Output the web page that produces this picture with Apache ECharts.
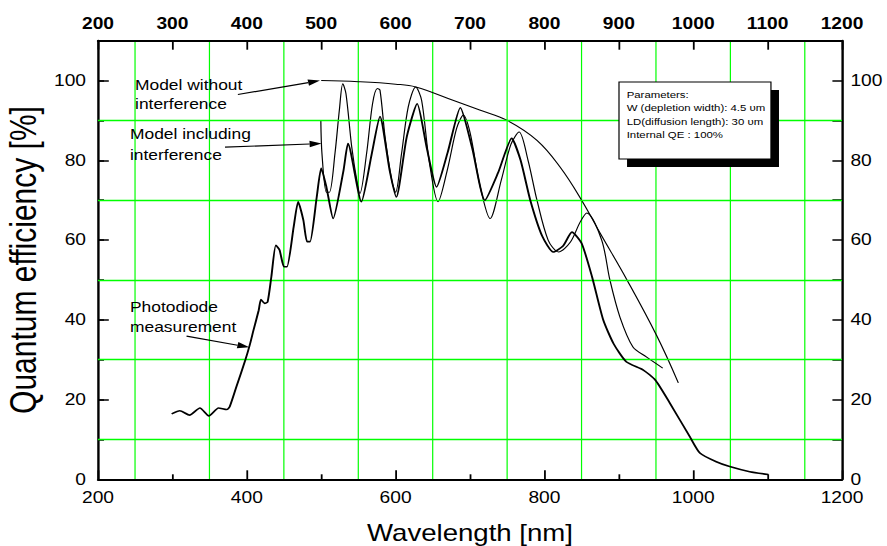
<!DOCTYPE html>
<html>
<head>
<meta charset="utf-8">
<script src="https://cdn.jsdelivr.net/npm/echarts@6.0.0/dist/echarts.min.js"></script>
<style>
html,body{margin:0;padding:0;background:#fff;overflow:hidden;}
/* the original plot is stretched horizontally, so draw narrower and stretch */
#main{width:739px;height:546px;transform:scaleX(1.2003);transform-origin:0 0;}
</style>
</head>
<body>
<div id="main"></div>
<script>
// photodiode measurement: wavelength (nm) / QE (%)
var pdWl = [299,310,323,337,349,362,373,377,386,398,404,409,416,419,424,428,433,439,444,450,454,463,469,476,481,485,494,500,507,516,530,536,554,568,579,592,601,615,629,642,655,670,687,703,720,738,756,768,781,797,812,825,837,850,864,879,893,910,933,949,969,996,1009,1031,1049,1076,1101];
var pdQe = [16.4,17.2,16.1,17.9,15.9,17.9,17.5,18.2,23.2,29.9,33.7,37.4,42.4,45.1,44.1,44.5,50.8,58.7,57.5,53.3,53.3,63.3,69.6,65.0,59.6,59.6,70.8,78,73.3,65.4,77.5,84.2,69.6,81.7,91,77.5,70.8,85.9,94.2,83,73.3,82,93.2,83,70,77,85.5,80,70,61,57,58.5,62,59.2,50.8,40,34,29.5,27.4,24.9,19,10.5,6.6,4.4,3.2,1.9,1.2];

// model including interference
var miWl = [499.5,501,507,511,518.5,524.4,529,533.3,541,548.5,552,561,569,575.5,579,585.8,594.8,600,608,617,627,635,645,657,670,682,691,700,713,727,742,755,766,778,790,805,819,835,848,857,877,888,901.5,919,937,959];
var miQe = [89.9,81.7,72,72,81.7,92.6,99.2,96.7,83.4,74.2,71.7,81.7,94.2,98,97.6,85.9,75,72,81.7,93.4,98.4,95,80,69.6,78,88,91.3,87,74,65.4,75,84,87.1,80,70,60,57,59.5,64.5,66.8,60,50,40.7,33.2,30.7,27.9];

// model without interference
var mwWl = [500,550,600,627,678,713,750,790,821,850,875,911,951,980];
var mwQe = [100,99.7,99.1,98.4,95,92.6,90,85,78.3,70,61.7,50,36,24.2];

// green horizontal grid lines (QE %)
var hGrid = [10, 30, 50, 70, 90];

// annotation arrows, [tail, tip] in data units
var arrowWithout = [[388, 96.5], [498.4, 100]];
var arrowIncluding = [[370.7, 83.3], [500.5, 84.2]];
var arrowDiode = [[319, 35.9], [403.4, 33.1]];

var font = 'Arial, "Liberation Sans", sans-serif';

function pairs(xs, ys) {
  return xs.map(function (x, i) { return [x, ys[i]]; });
}
function plain(v) { return String(v); }

var chart = echarts.init(document.getElementById('main'), null, {renderer: 'svg'});

var axisLine = {show: true, onZero: false, lineStyle: {color: '#000', width: 2}};

var option = {
  animation: false,
  backgroundColor: '#fff',
  grid: {left: 81.65, right: 37.5, top: 40.7, bottom: 66.7, outerBoundsMode: 'none', containLabel: false},
  xAxis: [
    {
      type: 'value', position: 'bottom', min: 200, max: 1200, interval: 200,
      name: 'Wavelength [nm]', nameLocation: 'middle', nameGap: 42, nameMoveOverlap: false,
      nameTextStyle: {color: '#000', fontSize: 23, fontFamily: font},
      axisLine: axisLine,
      axisTick: {inside: true, length: 9, lineStyle: {color: '#000', width: 1.5}},
      minorTick: {show: true, splitNumber: 2, length: 5, lineStyle: {color: '#000', width: 1.5}},
      axisLabel: {color: '#000', fontSize: 16, fontFamily: font, margin: 10, formatter: plain},
      splitLine: {show: false}
    },
    {
      type: 'value', position: 'top', min: 200, max: 1200, interval: 100,
      axisLine: axisLine,
      axisTick: {inside: true, length: 9, lineStyle: {color: '#000', width: 1.5}},
      minorTick: {show: false, splitNumber: 2},
      minorSplitLine: {show: true, lineStyle: {color: '#00ff00', width: 1}},
      axisLabel: {color: '#000', fontSize: 16, fontWeight: 'bold', fontFamily: font, margin: 9, formatter: plain},
      splitLine: {show: false}
    }
  ],
  yAxis: [
    {
      type: 'value', position: 'left', min: 0, max: 110, interval: 20,
      name: 'Quantum efficiency [%]', nameLocation: 'middle', nameGap: 47, nameMoveOverlap: false,
      nameTextStyle: {color: '#000', fontSize: 30, fontFamily: font},
      axisLine: axisLine,
      axisTick: {inside: true, length: 9, lineStyle: {color: '#000', width: 1.5}},
      axisLabel: {color: '#000', fontSize: 16, fontFamily: font, margin: 10,
        formatter: function (v) { return v <= 100 ? String(v) : ''; }},
      splitLine: {show: false}
    },
    {
      type: 'value', position: 'right', min: 0, max: 110, interval: 10,
      axisLine: axisLine,
      axisTick: {inside: true, length: 8, lineStyle: {color: '#000', width: 1.5}},
      axisLabel: {color: '#000', fontSize: 16, fontFamily: font, margin: 7,
        formatter: function (v) { return (v % 20 === 0 && v <= 100) ? String(v) : ''; }},
      splitLine: {show: false}
    },
    {
      // minor ticks on the left side
      type: 'value', position: 'left', min: 0, max: 110, interval: 10,
      axisLine: {show: false},
      axisTick: {show: true, inside: true, length: 5, lineStyle: {color: '#000', width: 1.5}},
      axisLabel: {show: false},
      splitLine: {show: false}
    }
  ],
  series: [
    {
      name: 'grid', type: 'line', xAxisIndex: 0, yAxisIndex: 0, data: [], z: 1,
      markLine: {
        silent: true, symbol: 'none', animation: false,
        label: {show: false},
        lineStyle: {color: '#00ff00', width: 1.3, type: 'solid'},
        data: hGrid.map(function (v) { return {yAxis: v}; })
      }
    },
    {
      name: 'Photodiode measurement', type: 'line', xAxisIndex: 0, yAxisIndex: 0,
      data: pairs(pdWl, pdQe), symbol: 'none', smooth: 0.2,
      lineStyle: {color: '#000', width: 1.6}, z: 5
    },
    {
      name: 'Model including interference', type: 'line', xAxisIndex: 0, yAxisIndex: 0,
      data: pairs(miWl, miQe), symbol: 'none', smooth: 0.3,
      lineStyle: {color: '#000', width: 1}, z: 4
    },
    {
      name: 'Model without interference', type: 'line', xAxisIndex: 0, yAxisIndex: 0,
      data: pairs(mwWl, mwQe), symbol: 'none', smooth: 0.4,
      lineStyle: {color: '#000', width: 1}, z: 4
    }
  ]
};

chart.setOption(option);

function arrow(a) {
  var p = chart.convertToPixel({xAxisIndex: 0, yAxisIndex: 0}, a[0]);
  var q = chart.convertToPixel({xAxisIndex: 0, yAxisIndex: 0}, a[1]);
  var dx = q[0] - p[0], dy = q[1] - p[1];
  var len = Math.sqrt(dx * dx + dy * dy);
  var ux = dx / len, uy = dy / len, hl = 10, hw = 3.2;
  var bx = q[0] - ux * hl, by = q[1] - uy * hl;
  return [
    {type: 'line', z: 20, shape: {x1: p[0], y1: p[1], x2: bx, y2: by}, style: {stroke: '#000', lineWidth: 1.2}},
    {type: 'polygon', z: 20, shape: {points: [[q[0], q[1]], [bx - uy * hw, by + ux * hw], [bx + uy * hw, by - ux * hw]]}, style: {fill: '#000'}}
  ];
}

function label(x, y, txt, size) {
  return {type: 'text', x: x, y: y, z: 20,
    style: {text: txt, fill: '#000', fontSize: size, fontFamily: font, align: 'left', verticalAlign: 'middle'}};
}

var g = [];
g = g.concat(arrow(arrowWithout), arrow(arrowIncluding), arrow(arrowDiode));
g.push(label(112.5, 85.5, 'Model without', 14.5));
g.push(label(112.5, 104.5, 'interference', 14.5));
g.push(label(108.3, 134, 'Model including', 14.5));
g.push(label(108.3, 155, 'interference', 14.5));
g.push(label(108.3, 307, 'Photodiode', 14.5));
g.push(label(108.3, 327, 'measurement', 14.5));
// parameter box with drop shadow
g.push({type: 'rect', z: 21, shape: {x: 522.4, y: 90, width: 126.6, height: 77}, style: {fill: '#000'}});
g.push({type: 'rect', z: 22, shape: {x: 515.7, y: 82, width: 126.6, height: 77}, style: {fill: '#fff', stroke: '#000', lineWidth: 1}});
var params = ['Parameters:', 'W (depletion width): 4.5 \u03c5m', 'LD(diffusion length): 30 \u03c5m', 'Internal QE : 100%'];
params.forEach(function (t, i) {
  var el = label(522.1, 94.7 + i * 13.5, t, 9.5);
  el.z = 23;
  g.push(el);
});

chart.setOption({graphic: g});
</script>
</body>
</html>
